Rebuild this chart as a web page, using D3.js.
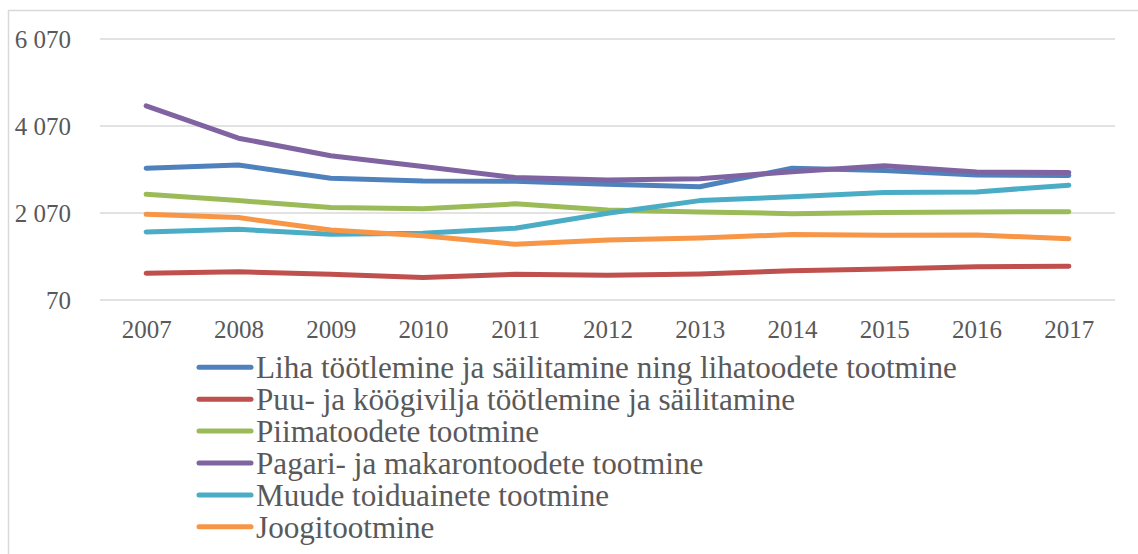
<!DOCTYPE html>
<html>
<head>
<meta charset="utf-8">
<script src="https://cdn.jsdelivr.net/npm/d3@7"></script>
<style>
  body { margin: 0; background: #fff; }
  svg { display: block; }
</style>
</head>
<body>
<script>
// years on the x axis
var years = ["2007", "2008", "2009", "2010", "2011", "2012", "2013", "2014", "2015", "2016", "2017"];
var yTicks = [70, 2070, 4070, 6070];

// series names (legend order)
var seriesNames = [
    "Liha töötlemine ja säilitamine ning lihatoodete tootmine",
    "Puu- ja köögivilja töötlemine ja säilitamine",
    "Piimatoodete tootmine",
    "Pagari- ja makarontoodete tootmine",
    "Muude toiduainete tootmine",
    "Joogitootmine"
];
var seriesColors = ["#4F81BD", "#C0504D", "#9BBB59", "#8064A2", "#4BACC6", "#F79646"];

// values
var liha    = [3100, 3175, 2870, 2805, 2800, 2730, 2675, 3100, 3045, 2945, 2930];
var puu     = [685, 720, 660, 590, 660, 640, 670, 745, 785, 835, 845];
var piim    = [2500, 2355, 2195, 2170, 2280, 2140, 2095, 2055, 2080, 2095, 2100];
var pagar   = [4535, 3790, 3385, 3140, 2885, 2830, 2855, 3020, 3155, 3010, 3000];
var muud    = [1635, 1695, 1580, 1605, 1720, 2065, 2355, 2445, 2540, 2555, 2710];
var jook    = [2040, 1965, 1680, 1545, 1350, 1450, 1495, 1575, 1560, 1565, 1480];

var allSeries = [liha, puu, piim, pagar, muud, jook];

var width = 1138, height = 554;

var svg = d3.select("body").append("svg")
    .attr("width", width)
    .attr("height", height);

// chart frame (only left and top visible in the crop)
svg.append("path")
    .attr("d", "M8.5," + height + "V10.5H" + width)
    .attr("fill", "none")
    .attr("stroke", "#d9d9d9")
    .attr("stroke-width", 1.5);

var x = d3.scalePoint()
    .domain(years)
    .range([100, 1115])
    .padding(0.5);

var y = d3.scaleLinear()
    .domain([70, 6070])
    .range([300, 39]);

var locale = d3.formatLocale({decimal: ",", thousands: "\u00a0", grouping: [3], currency: ["", ""]});
var fmt = locale.format(",d");

// gridlines
svg.append("g")
    .selectAll("line")
    .data(yTicks)
    .enter()
    .append("line")
    .attr("x1", 100)
    .attr("x2", 1115)
    .attr("y1", function (d) { return y(d); })
    .attr("y2", function (d) { return y(d); })
    .attr("stroke", "#d9d9d9")
    .attr("stroke-width", 1.5);

// y axis labels
var yAxis = d3.axisLeft(y).tickValues(yTicks).tickFormat(fmt).tickSize(0).tickPadding(0);
var yAxisGroup = svg.append("g")
    .attr("transform", "translate(71,0)")
    .call(yAxis);
yAxisGroup.select(".domain").remove();
yAxisGroup.selectAll("text")
    .attr("fill", "#595959")
    .style("font-family", "'Liberation Serif', serif")
    .style("font-size", "25px");

// x axis labels
var xAxis = d3.axisBottom(x).tickSize(0).tickPadding(0);
var xAxisGroup = svg.append("g")
    .attr("transform", "translate(0,320)")
    .call(xAxis);
xAxisGroup.select(".domain").remove();
xAxisGroup.selectAll("text")
    .attr("fill", "#595959")
    .attr("dy", "0.71em")
    .style("font-family", "'Liberation Serif', serif")
    .style("font-size", "25px");

// lines
var line = d3.line()
    .x(function (d, i) { return x(years[i]); })
    .y(function (d) { return y(d); });

svg.append("g")
    .selectAll("path")
    .data(allSeries)
    .enter()
    .append("path")
    .attr("d", line)
    .attr("fill", "none")
    .attr("stroke", function (d, i) { return seriesColors[i]; })
    .attr("stroke-width", 5)
    .attr("stroke-linecap", "round")
    .attr("stroke-linejoin", "round");

// legend
var legend = svg.append("g");
var rows = legend.selectAll("g")
    .data(seriesNames)
    .enter()
    .append("g")
    .attr("transform", function (d, i) { return "translate(0," + (367.3 + i * 31.9) + ")"; });

rows.append("line")
    .attr("x1", 199)
    .attr("x2", 251)
    .attr("stroke", function (d, i) { return seriesColors[i]; })
    .attr("stroke-width", 5)
    .attr("stroke-linecap", "round");

var legendText = rows.append("text")
    .text(function (d) { return d; })
    .attr("fill", "#595959")
    .style("font-family", "'Liberation Serif', serif")
    .style("font-size", "31px");

// the legend text is drawn narrow in the original: squeeze it to the measured width
var natural = legendText.node().getComputedTextLength();
var sx = 701 / natural;
legendText.attr("transform", "translate(256,11) scale(" + sx + ",1)");
</script>
</body>
</html>
